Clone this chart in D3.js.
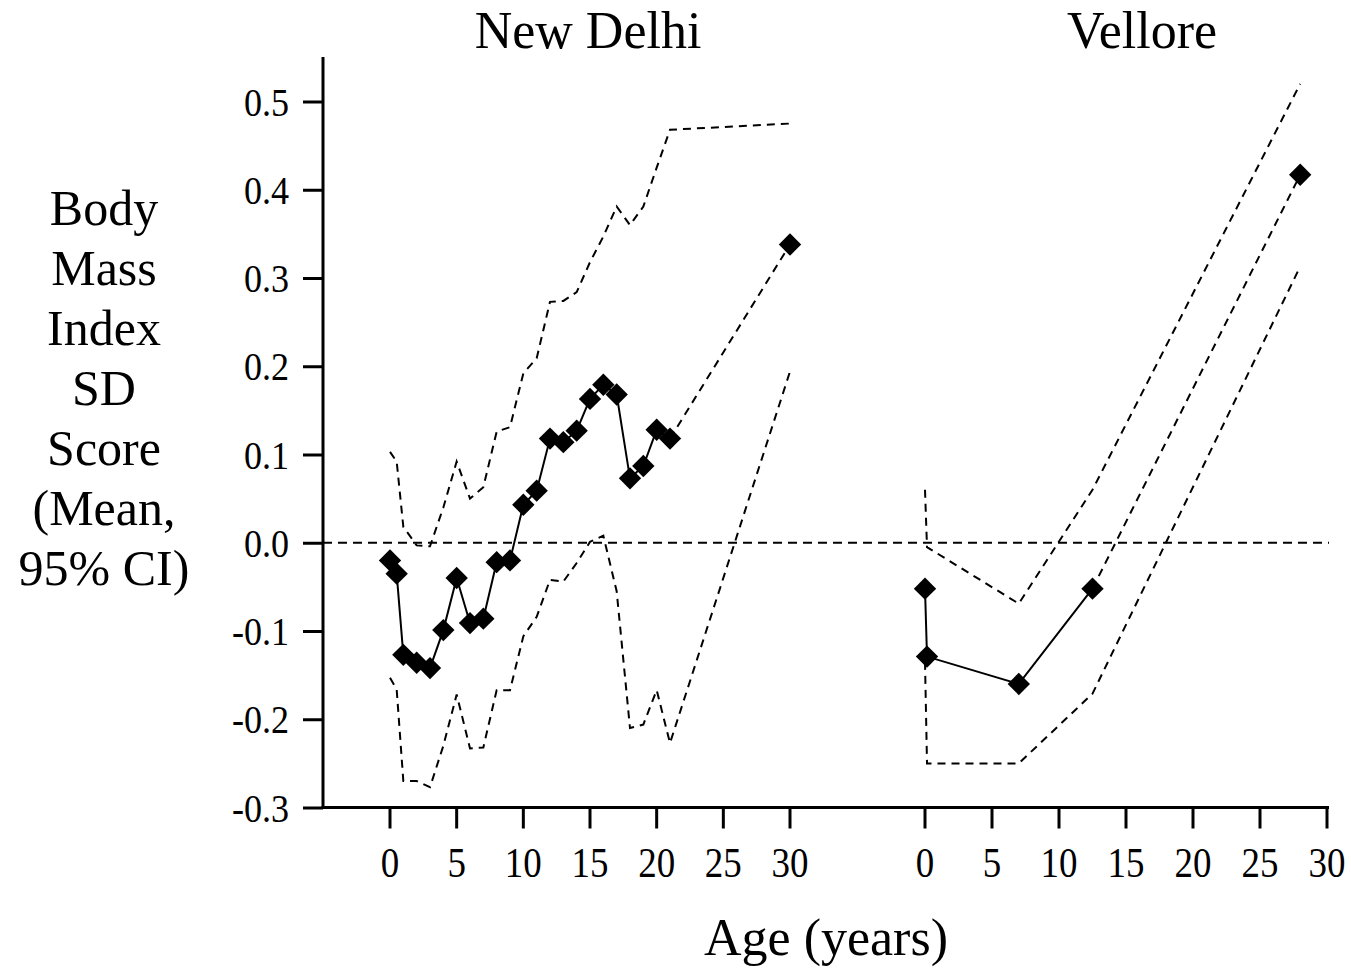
<!DOCTYPE html>
<html>
<head>
<meta charset="utf-8">
<script src="https://cdn.jsdelivr.net/npm/d3@7"></script>
<style>
  body { margin: 0; background: #fff; }
  text { font-family: "Liberation Serif", "Times New Roman", serif; fill: #000; }
</style>
</head>
<body>
<div id="chart"></div>
<script>
// New Delhi cohort (age in years, BMI SD score)
var ndAge   = [0, 0.5, 1, 2, 3, 4, 5, 6, 7, 8, 9, 10, 11, 12, 13, 14, 15, 16, 17, 18, 19, 20, 21, 30];
var ndMean  = [-0.020, -0.035, -0.127, -0.136, -0.142, -0.099, -0.040, -0.091, -0.086, -0.022, -0.020, 0.043,
               0.059, 0.118, 0.114, 0.127, 0.163, 0.179, 0.168, 0.073, 0.087, 0.128, 0.118, 0.338];
var ndUpper = [0.103, 0.092, 0.018, -0.003, -0.004, 0.040, 0.092, 0.050, 0.063, 0.126, 0.131, 0.192,
               0.209, 0.273, 0.274, 0.284, 0.318, 0.347, 0.381, 0.360, 0.381, 0.425, 0.468, 0.475];
var ndLower = [-0.153, -0.166, -0.270, -0.270, -0.277, -0.230, -0.172, -0.233, -0.232, -0.167, -0.167, -0.106,
               -0.084, -0.042, -0.044, -0.023, 0.001, 0.008, -0.055, -0.210, -0.206, -0.167, -0.227, 0.194];
var ndSolidUpTo = 21;

// Vellore cohort
var vAge   = [0, 0.15, 7, 12.5, 28];
var vMean  = [-0.052, -0.129, -0.160, -0.052, 0.417];
var vUpper = [0.060, -0.005, -0.069, 0.060, 0.520];
var vLower = [-0.135, -0.250, -0.250, -0.171, 0.313];
var vSolidUpTo = 12.5;

var panelNames = ["New Delhi", "Vellore"];
var xTicks = [0, 5, 10, 15, 20, 25, 30];
var yTicks = [-0.3, -0.2, -0.1, 0.0, 0.1, 0.2, 0.3, 0.4, 0.5];
var yLabelLines = ["Body", "Mass", "Index", "SD", "Score", "(Mean,", "95% CI)"];
var xTitle = "Age (years)";

var svgWidth = 1351, svgHeight = 969;
var axisX = 323, axisY = 807.5;
var squeeze = 0.88; // tick labels in the original look a bit condensed

var svg = d3.select("#chart").append("svg")
    .attr("width", svgWidth)
    .attr("height", svgHeight);

var yScale = d3.scaleLinear().domain([-0.3, 0.5]).range([807.5, 101.5]);
var xND = d3.scaleLinear().domain([0, 30]).range([390, 790]);
var xV = d3.scaleLinear().domain([0, 30]).range([925, 1327]);

// y axis
var leftAxis = d3.axisLeft(yScale)
    .tickValues(yTicks)
    .tickSize(20)
    .tickFormat(d => d.toFixed(1));

var yG = svg.append("g")
    .attr("transform", `translate(${axisX},0)`)
    .call(leftAxis);
yG.select(".domain").remove();
yG.selectAll("line").attr("stroke", "#000").attr("stroke-width", 3);
yG.selectAll("text")
    .attr("font-size", "41px")
    .attr("font-family", "Liberation Serif, serif")
    .attr("x", -34 / squeeze)
    .attr("dy", "0.33em")
    .attr("transform", `scale(${squeeze},1)`);

svg.append("line")
    .attr("x1", axisX).attr("x2", axisX)
    .attr("y1", 57).attr("y2", axisY + 1.5)
    .attr("stroke", "#000").attr("stroke-width", 3);

// x axes, one per panel
[xND, xV].forEach(function(sc) {
    var g = svg.append("g")
        .attr("transform", `translate(0,${axisY})`)
        .call(d3.axisBottom(sc).tickValues(xTicks).tickSize(21));
    g.select(".domain").remove();
    g.selectAll("line").attr("stroke", "#000").attr("stroke-width", 3);
    g.selectAll("text")
        .attr("y", 70)
        .attr("dy", 0)
        .attr("font-size", "42px")
        .attr("font-family", "Liberation Serif, serif")
        .attr("transform", `scale(${squeeze},1)`);
    g.selectAll(".tick")
        .attr("transform", d => `translate(${sc(d)},0)`);
});

svg.append("line")
    .attr("x1", axisX - 1.5).attr("x2", 1329)
    .attr("y1", axisY).attr("y2", axisY)
    .attr("stroke", "#000").attr("stroke-width", 3);

// zero reference line
svg.append("line")
    .attr("x1", axisX).attr("x2", 1329)
    .attr("y1", yScale(0)).attr("y2", yScale(0))
    .attr("stroke", "#000").attr("stroke-width", 2)
    .attr("stroke-dasharray", "9,6");

function drawPanel(ages, mean, upper, lower, solidUpTo, xs) {
    var line = d3.line().x(d => xs(d[0])).y(d => yScale(d[1]));
    var up = ages.map((a, i) => [a, upper[i]]);
    var lo = ages.map((a, i) => [a, lower[i]]);
    var pts = ages.map((a, i) => [a, mean[i]]);
    var solid = pts.filter(d => d[0] <= solidUpTo);
    var tail = pts.filter(d => d[0] >= solidUpTo);

    [up, lo].forEach(function(ci) {
        svg.append("path")
            .attr("d", line(ci))
            .attr("fill", "none")
            .attr("stroke", "#000")
            .attr("stroke-width", 2)
            .attr("stroke-dasharray", "8,6");
    });

    svg.append("path")
        .attr("d", line(tail))
        .attr("fill", "none")
        .attr("stroke", "#000")
        .attr("stroke-width", 2)
        .attr("stroke-dasharray", "8,6");

    svg.append("path")
        .attr("d", line(solid))
        .attr("fill", "none")
        .attr("stroke", "#000")
        .attr("stroke-width", 2);

    svg.append("g").selectAll("path")
        .data(pts)
        .enter()
        .append("path")
        .attr("d", d3.symbol().type(d3.symbolSquare).size(250))
        .attr("transform", d => `translate(${xs(d[0])},${yScale(d[1])}) rotate(45)`)
        .attr("fill", "#000");
}

drawPanel(ndAge, ndMean, ndUpper, ndLower, ndSolidUpTo, xND);
drawPanel(vAge, vMean, vUpper, vLower, vSolidUpTo, xV);

// panel titles
svg.append("text")
    .attr("x", 588).attr("y", 48)
    .attr("text-anchor", "middle")
    .attr("font-size", "52px")
    .text(panelNames[0]);

svg.append("text")
    .attr("x", 1142).attr("y", 48)
    .attr("text-anchor", "middle")
    .attr("font-size", "52px")
    .text(panelNames[1]);

// y axis title, stacked lines
svg.append("g").selectAll("text")
    .data(yLabelLines)
    .enter()
    .append("text")
    .attr("x", 104)
    .attr("y", (d, i) => 225 + i * 60)
    .attr("text-anchor", "middle")
    .attr("font-size", "50px")
    .text(d => d);

svg.append("text")
    .attr("x", 826).attr("y", 955)
    .attr("text-anchor", "middle")
    .attr("font-size", "52px")
    .text(xTitle);
</script>
</body>
</html>
